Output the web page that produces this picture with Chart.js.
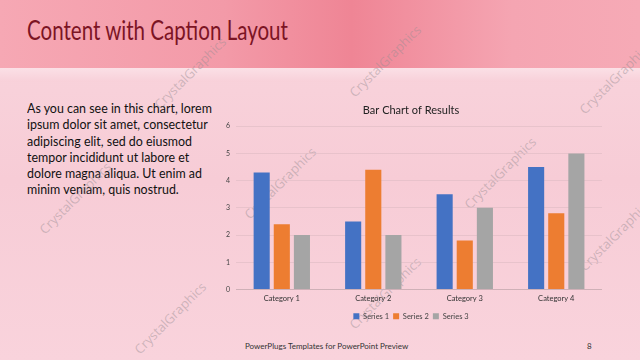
<!DOCTYPE html>
<html>
<head>
<meta charset="utf-8">
<script src="https://cdn.jsdelivr.net/npm/chart.js@4.4.0/dist/chart.umd.min.js"></script>
<style>
  html, body { margin: 0; padding: 0; }
  body {
    width: 640px; height: 360px; overflow: hidden; position: relative;
    font-family: Lato, "Open Sans", sans-serif;
    background: linear-gradient(180deg, #f9d6de 0%, #f7ccd6 50%, #f9d3dc 100%);
  }
  #band {
    position: absolute; left: 0; top: 0; width: 640px; height: 68px;
    background: linear-gradient(90deg, #f6a8b4 0%, #f39aa8 35%, #ef8595 55%, #f5a5b2 80%, #f6aab6 100%);
  }
  #band2 {
    position: absolute; left: 0; top: 68px; width: 640px; height: 14px;
    background: linear-gradient(180deg, #fbe0e6, #f8d0d9);
  }
  #title {
    position: absolute; left: 27px; top: 14px; font-size: 26px; font-weight: 400; color: #7c1424;
    white-space: nowrap; transform: scaleX(0.79); transform-origin: left top;
  }
  #caption {
    position: absolute; left: 27px; top: 100px; font-size: 13px; white-space: nowrap;
    line-height: 16.3px; color: #111; transform: scaleX(0.955); transform-origin: left top;
  }
  .wm {
    position: absolute; font-size: 13px; color: rgba(150,140,145,0.45);
    transform: rotate(-45deg); transform-origin: left top; white-space: nowrap;
    font-family: "Open Sans", sans-serif;
  }
  #footer { position: absolute; left: 245px; top: 341px; font-size: 8px; color: #333; }
  #pnum { position: absolute; left: 587px; top: 341px; font-size: 8px; color: #333; }
  #wrap { position: absolute; left: 220px; top: 102px; width: 382px; height: 228px; }
</style>
</head>
<body>
<div id="band"></div>
<div id="band2"></div>
<div id="title">Content with Caption Layout</div>
<div id="caption">As you can see in this chart, lorem<br>ipsum dolor sit amet, consectetur<br>adipiscing elit, sed do eiusmod<br>tempor incididunt ut labore et<br>dolore magna aliqua. Ut enim ad<br>minim veniam, quis nostrud.</div>
<div class="wm" style="left:150px;top:100px">CrystalGraphics</div>
<div class="wm" style="left:345px;top:88px">CrystalGraphics</div>
<div class="wm" style="left:575px;top:105px">CrystalGraphics</div>
<div class="wm" style="left:35px;top:225px">CrystalGraphics</div>
<div class="wm" style="left:240px;top:210px">CrystalGraphics</div>
<div class="wm" style="left:460px;top:200px">CrystalGraphics</div>
<div class="wm" style="left:345px;top:320px">CrystalGraphics</div>
<div class="wm" style="left:575px;top:262px">CrystalGraphics</div>
<div class="wm" style="left:130px;top:345px">CrystalGraphics</div>
<div id="wrap"><canvas id="grafica"></canvas></div>
<div id="footer">PowerPlugs Templates for PowerPoint Preview</div>
<div id="pnum">8</div>
<script>
var categorias = ["Category 1", "Category 2", "Category 3", "Category 4"];
var serie1 = [4.3, 2.5, 3.5, 4.5];
var serie2 = [2.4, 4.4, 1.8, 2.8];
var serie3 = [2, 2, 3, 5];
var ticksY = [0, 1, 2, 3, 4, 5, 6];

var ctx = document.getElementById("grafica");
var datos = {
  labels: categorias,
  datasets: [
    { label: "Series 1", data: serie1, backgroundColor: "#4472c4" },
    { label: "Series 2", data: serie2, backgroundColor: "#ed7d31" },
    { label: "Series 3", data: serie3, backgroundColor: "#a5a5a5" }
  ]
};

new Chart(ctx, {
  type: "bar",
  data: datos,
  options: {
    responsive: true,
    maintainAspectRatio: false,
    animation: false,
    datasets: { bar: { categoryPercentage: 0.66, barPercentage: 0.8 } },
    layout: { padding: 0 },
    plugins: {
      title: {
        display: true, text: "Bar Chart of Results", color: "#222",
        font: { family: "Lato", size: 11, weight: "normal" }, padding: { top: 2, bottom: 9 }
      },
      legend: {
        position: "bottom",
        labels: { boxWidth: 6, boxHeight: 6, color: "#444", font: { family: "Lato", size: 7.5 }, padding: 4 }
      },
      tooltip: { enabled: false }
    },
    scales: {
      x: {
        grid: { display: false, drawTicks: false },
        border: { color: "rgba(200,170,178,0.8)" },
        ticks: { color: "#333", font: { family: "Lato", size: 7.5 }, padding: 5 }
      },
      y: {
        min: ticksY[0], max: ticksY[ticksY.length - 1],
        afterBuildTicks: function(axis) { axis.ticks = ticksY.map(function(v) { return { value: v }; }); },
        grid: { color: "rgba(225,190,198,0.7)", drawTicks: false },
        border: { display: false },
        ticks: { color: "#444", font: { family: "Lato", size: 7 }, padding: 6 }
      }
    }
  }
});
</script>
</body>
</html>
